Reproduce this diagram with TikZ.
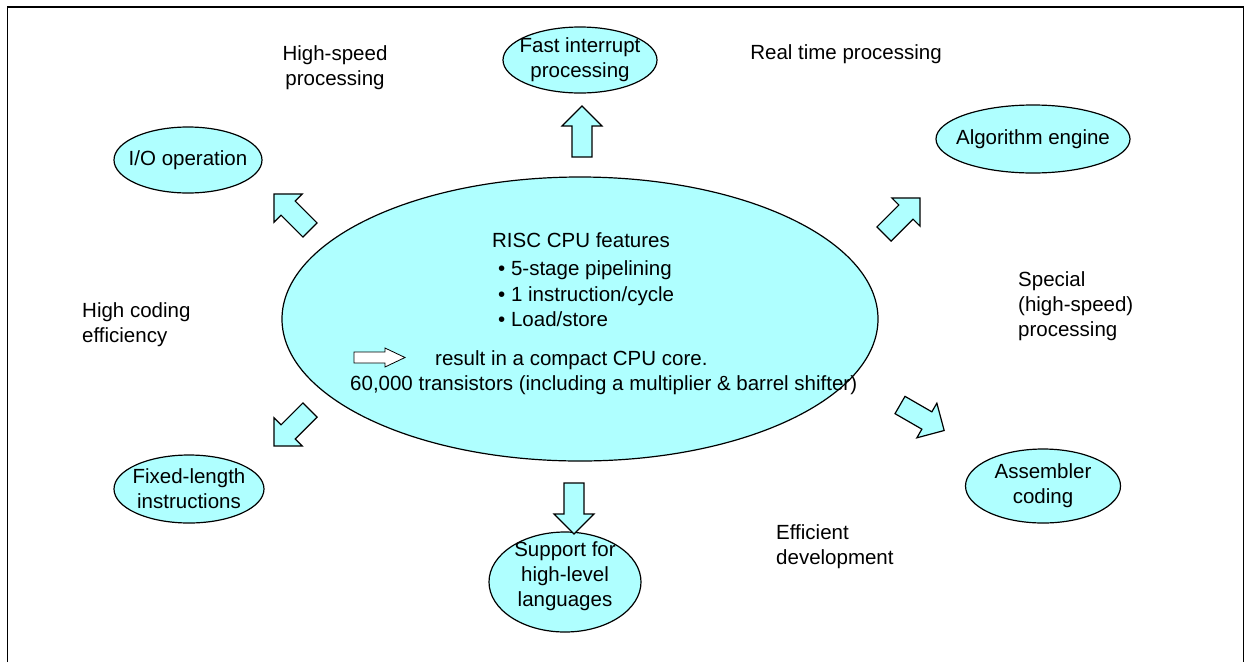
\documentclass[tikz,border=0pt]{standalone}
\usepackage{fontspec}
\setmainfont{Liberation Sans}
\usetikzlibrary{shapes.geometric}
\definecolor{cy}{RGB}{175,255,255}
\newcommand\blkarrow[3]{\begin{scope}[shift={(#1,#2)},rotate=#3]\draw[blk] (0,-10) -- (31,-10) -- (31,-20) -- (51,0) -- (31,20) -- (31,10) -- (0,10) -- cycle;\end{scope}}
\begin{document}
\begin{tikzpicture}[x=1pt,y=-1pt, font=\fontsize{20.5}{25}\selectfont,
 bub/.style={ellipse, draw, line width=1.2pt, fill=cy, inner sep=0},
 blk/.style={draw, line width=1.2pt, fill=cy, line join=miter},
 lbl/.style={align=center, inner sep=0}]
\useasboundingbox (0,0) rectangle (1246,662);
\draw[line width=1.6pt] (7.5,662) -- (7.5,7) -- (1243.5,7) -- (1243.5,662);

% central ellipse
\node[bub, minimum width=596, minimum height=284] (core) at (580,319) {};
\node[lbl, anchor=base] (t0) at (581,247) {RISC CPU features};
\node[lbl, anchor=base west] (t1) at (498,275) {• 5-stage pipelining};
\node[lbl, anchor=base west] (t2) at (498,301) {• 1 instruction/cycle};
\node[lbl, anchor=base west] (t3) at (498,326) {• Load/store};
\node[lbl, anchor=base west] (t4) at (435,365) {result in a compact CPU core.};
\node[lbl, anchor=base west] (t5) at (350,390) {60,000 transistors (including a multiplier \& barrel shifter)};
\draw[fill=white, line width=0.8pt] (354,352) -- (385,352) -- (385,348) -- (405,357.5) -- (385,367) -- (385,363) -- (354,363) -- cycle;

% outer ellipses
\node[bub, minimum width=154, minimum height=66] (fi) at (580,60) {};
\node[lbl] at (fi) {Fast interrupt\\processing};
\node[bub, minimum width=148, minimum height=66] (io) at (188,160) {};
\node[lbl] at (io) {I/O operation};
\node[bub, minimum width=194, minimum height=68] (ae) at (1033,139) {};
\node[lbl] at (ae) {Algorithm engine};
\node[bub, minimum width=150, minimum height=68] (fl) at (189,489) {};
\node[lbl] at (fl) {Fixed-length\\instructions};
\node[bub, minimum width=155, minimum height=74] (ac) at (1043,486) {};
\node[lbl] at (ac) {Assembler\\coding};
\node[bub, minimum width=152, minimum height=100] (sl) at (565,582) {};
\node[lbl] (slt) at (565,576) {Support for\\high-level\\languages};

% block arrows
\blkarrow{582}{157}{90}
\blkarrow{574}{483}{-90}
\blkarrow{310}{230}{135}
\blkarrow{884}{234}{45}
\blkarrow{900}{405}{-30}
\blkarrow{310}{410}{-135}

% free labels
\node[lbl] (hs) at (335,68) {High-speed\\processing};
\node[lbl] (rt) at (846,54) {Real time processing};
\node[lbl, align=left, anchor=west] (hc) at (82,325) {High coding\\efficiency};
\node[lbl, align=left, anchor=west] (sp) at (1018,306) {Special\\(high-speed)\\processing};
\node[lbl, align=left, anchor=west] (ed) at (776,547) {Efficient\\development};
\end{tikzpicture}
\end{document}
